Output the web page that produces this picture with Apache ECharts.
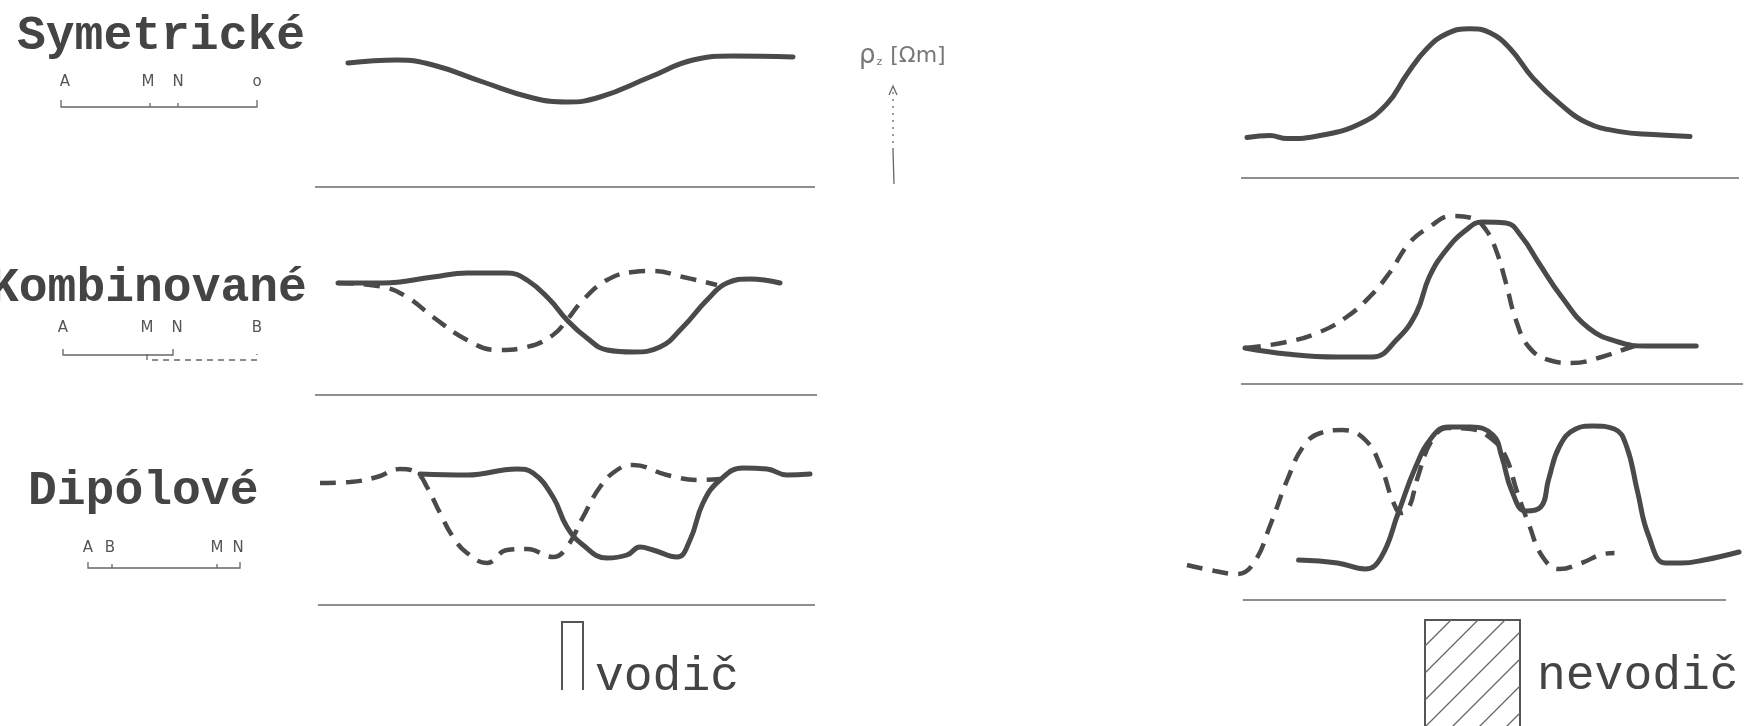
<!DOCTYPE html>
<html lang="cs">
<head>
<meta charset="UTF-8">
<title>Odporové profilování</title>
<style>
    html, body { margin: 0; padding: 0; background: #fff; }
    #chart { width: 1748px; height: 726px; }
</style>
</head>
<body>
<div id="chart"></div>
<script src="https://cdn.jsdelivr.net/npm/echarts@6.0.0/dist/echarts.min.js"></script>
<script>
// x = poloha na profilu (0-100), y = zdanlivy odpor rho_z (rel. jednotky)
var symVodic = [[6.6,124],[16.4,127],[23.6,122],[33.6,105],[43.6,89],[50.4,85],[57,90],[67,110],[75.6,127],[83.6,131],[95.6,130]];
var kombVodicPlna = [[4.6,112],[13.6,112],[23.6,118],[30.4,122],[38.4,122],[42.4,115],[47,95],[50.4,75],[54.4,57],[58.4,45],[63.6,43],[69,48],[73.6,68],[78.4,95],[82.4,112],[87,116],[93,112]];
var kombVodicCar = [[4.6,112],[13.6,108],[18.4,98],[23.6,78],[30.4,55],[36.4,45],[42.4,48],[47.6,60],[50.4,75],[53.6,95],[58.4,115],[63.6,123],[67.6,124],[73.6,118],[80.4,110]];
var dipVodicPlna = [[21,131],[30.4,130],[40.4,136],[43.6,132],[47.6,108],[50.4,78],[53.6,60],[58.4,47],[62.4,50],[65,58],[67.6,55],[72.4,48],[75,65],[77.6,102],[81,125],[85.6,137],[90.4,136],[94.4,130],[99,131]];
var dipVodicCar = [[1,122],[7,123],[12.4,128],[17,136],[20.4,132],[22.4,118],[25,92],[27.6,68],[30.4,52],[34.4,42],[38.4,55],[42.4,56],[47.6,48],[50.4,58],[53.6,88],[57,118],[60.4,135],[63.6,140],[70.4,130],[77,125],[81,126]];

var symNevodic = [[1.4,41],[6,43],[9.4,40],[16,43],[24,55],[29.4,75],[33.4,105],[37.4,131],[41.4,146],[46,151],[50,147],[54,131],[58.6,101],[64,75],[69.4,56],[76,47],[82.6,44],[90,42]];
var kombNevodicPlna = [[1,36],[9.4,30],[19.4,27],[26.6,27],[31.4,44],[35.4,71],[38,107],[41.4,134],[45.4,154],[48.6,162],[53.4,161],[56.6,147],[60,121],[64.6,87],[70,56],[76,42],[81.4,38],[91.6,38]];
var kombNevodicCar = [[1,36],[9.4,42],[16,52],[21.4,67],[26,87],[30,111],[34,141],[38,157],[42.6,168],[46.6,166],[49.4,154],[51.4,134],[53.4,101],[55.4,64],[58,37],[62,24],[66.6,21],[72.6,27],[78.6,37],[80.6,39]];
var dipNevodicPlna = [[11.8,40],[19.6,37],[25.2,31],[28.4,43],[31.8,87],[35.2,132],[38.6,163],[41.8,173],[46.4,173],[50.8,165],[52.6,143],[54.6,109],[57.4,89],[60.4,93],[62,121],[64.2,154],[67.4,171],[70.8,174],[75.2,171],[77.6,154],[79.8,109],[82,65],[85.4,37],[88.6,37],[93.2,40],[100.2,48]];
var dipNevodicCar = [[-10.6,35],[-5,29],[-0.6,26],[2.8,37],[6.2,76],[9.6,121],[12.8,154],[16.2,167],[20.6,170],[25.2,160],[28.4,132],[30.8,98],[32.4,87],[34,93],[35.6,121],[38.6,160],[41.8,172],[46.4,171],[50.8,160],[53.4,143],[55.6,109],[58,76],[60.8,43],[64.2,31],[68.6,37],[73,46],[75.2,47]];

// zacatek a konec zakladni cary (x)
var baseExtents = [[0, 100], [0, 100.4], [0.6, 100], [0.2, 99.8], [0.2, 101], [0.6, 97.6]];

var rowNames = ['Symetrické', 'Kombinované', 'Dipólové'];

(function initChart() {
    var myChart = echarts.init(document.getElementById('chart'));
    var ink = '#4a4a4a';
    var pxPerUnit = 5;

    // panely: sloupec, zakladni cara (px), rozsah x, krivky
    var panels = [
        { col: 315, base: 187, xMin: 0, xMax: 101, solid: symVodic, dashed: null },
        { col: 315, base: 395, xMin: 0, xMax: 101, solid: kombVodicPlna, dashed: kombVodicCar },
        { col: 315, base: 605, xMin: 0, xMax: 101, solid: dipVodicPlna, dashed: dipVodicCar },
        { col: 1240, base: 178, xMin: 0, xMax: 101, solid: symNevodic, dashed: null },
        { col: 1240, base: 384, xMin: 0, xMax: 102, solid: kombNevodicPlna, dashed: kombNevodicCar },
        { col: 1240, base: 600, xMin: -12, xMax: 102, solid: dipNevodicPlna, dashed: dipNevodicCar }
    ];

    var grid = [], xAxis = [], yAxis = [], series = [];

    panels.forEach(function(p, i) {
        grid.push({
            left: p.col + p.xMin * pxPerUnit,
            top: p.base - 180,
            width: (p.xMax - p.xMin) * pxPerUnit,
            height: 190
        });
        xAxis.push({ type: 'value', gridIndex: i, min: p.xMin, max: p.xMax, show: false });
        yAxis.push({ type: 'value', gridIndex: i, min: -10, max: 180, show: false });

        series.push({
            type: 'line', xAxisIndex: i, yAxisIndex: i, symbol: 'none', silent: true,
            data: [[baseExtents[i][0], 0], [baseExtents[i][1], 0]],
            lineStyle: { color: '#6a6a6a', width: 1.5 }
        });
        if (p.dashed) {
            series.push({
                type: 'line', xAxisIndex: i, yAxisIndex: i, symbol: 'none', silent: true,
                smooth: 0.45, data: p.dashed,
                lineStyle: { color: ink, width: 4.5, type: [16, 10], cap: 'butt' }
            });
        }
        series.push({
            type: 'line', xAxisIndex: i, yAxisIndex: i, symbol: 'none', silent: true,
            smooth: 0.45, data: p.solid,
            lineStyle: { color: ink, width: 5, cap: 'round', join: 'round' }
        });
    });

    var lblFont = { fontFamily: 'DejaVu Sans', fontSize: 15, fill: '#555', align: 'center', verticalAlign: 'middle' };
    var thin = { stroke: '#666', lineWidth: 1.3, fill: null };

    function txt(x, y, s, st) {
        return { type: 'text', x: x, y: y, style: echarts.util.extend({ text: s }, st) };
    }
    function poly(pts, st) {
        return { type: 'polyline', shape: { points: pts }, style: echarts.util.extend({}, st) };
    }
    function mono(x, y, s, weight) {
        return txt(x, y, s, { fontFamily: 'Liberation Mono', fontSize: 48, fontWeight: weight,
            fill: '#444', verticalAlign: 'middle' });
    }

    var g = [];
    g.push(mono(17, 37, rowNames[0], 'bold'));
    g.push(mono(-10, 289, rowNames[1], 'bold'));
    g.push(mono(28, 492, rowNames[2], 'bold'));

    // usporadani elektrod
    [['A', 65], ['M', 148], ['N', 178], ['o', 257]].forEach(function(e) { g.push(txt(e[1], 82, e[0], lblFont)); });
    g.push(poly([[61, 100], [61, 107], [257, 107], [257, 100]], thin));
    g.push(poly([[150, 103], [150, 107]], thin));
    g.push(poly([[178, 103], [178, 107]], thin));

    [['A', 63], ['M', 147], ['N', 177], ['B', 257]].forEach(function(e) { g.push(txt(e[1], 328, e[0], lblFont)); });
    g.push(poly([[63, 349], [63, 355], [173, 355], [173, 349]], thin));
    g.push(poly([[147, 354], [147, 360], [257, 360], [257, 354]], echarts.util.extend({ lineDash: [6, 5] }, thin)));

    [['A', 88], ['B', 110], ['M', 217], ['N', 238]].forEach(function(e) { g.push(txt(e[1], 548, e[0], lblFont)); });
    g.push(poly([[88, 562], [88, 568], [240, 568], [240, 562]], thin));
    g.push(poly([[112, 564], [112, 568]], thin));
    g.push(poly([[217, 564], [217, 568]], thin));

    // osa rho_z
    g.push({
        type: 'text', x: 859, y: 56,
        style: {
            text: '{r|ρ}{s|z}{u|[Ωm]}', verticalAlign: 'middle', fill: '#777',
            rich: {
                r: { fontFamily: 'DejaVu Sans', fontSize: 26, fill: '#777' },
                s: { fontFamily: 'DejaVu Sans', fontSize: 11, fill: '#777', padding: [12, 8, 0, 1] },
                u: { fontFamily: 'DejaVu Sans', fontSize: 22, fill: '#777' }
            }
        }
    });
    g.push(poly([[889, 95], [893, 86], [897, 95]], thin));
    g.push(poly([[893, 92], [893, 150]], echarts.util.extend({ lineDash: [2, 5] }, thin)));
    g.push(poly([[893, 150], [894, 184]], thin));

    // vodic
    g.push(poly([[562, 690], [562, 622], [583, 622], [583, 690]], { stroke: '#555', lineWidth: 2, fill: null }));
    g.push(mono(595, 677, 'vodič', 'normal'));

    // nevodic - srafovany ctverec
    var rx0 = 1425, rx1 = 1520, ry0 = 620, ry1 = 760;
    g.push({ type: 'rect', shape: { x: rx0, y: ry0, width: rx1 - rx0, height: ry1 - ry0 },
        style: { stroke: '#555', lineWidth: 2, fill: null } });
    for (var c = rx0 + ry0 + 26; c < rx1 + ry1; c += 27) {
        var xa = Math.max(rx0, c - ry1), xb = Math.min(rx1, c - ry0);
        if (xb > xa) {
            g.push(poly([[xa, c - xa], [xb, c - xb]], { stroke: '#666', lineWidth: 1.3 }));
        }
    }
    g.push(mono(1537, 676, 'nevodič', 'normal'));

    var options = {
        animation: false,
        backgroundColor: '#fff',
        grid: grid,
        xAxis: xAxis,
        yAxis: yAxis,
        series: series,
        graphic: { elements: g }
    };

    myChart.setOption(options, true);
})();
</script>
</body>
</html>
